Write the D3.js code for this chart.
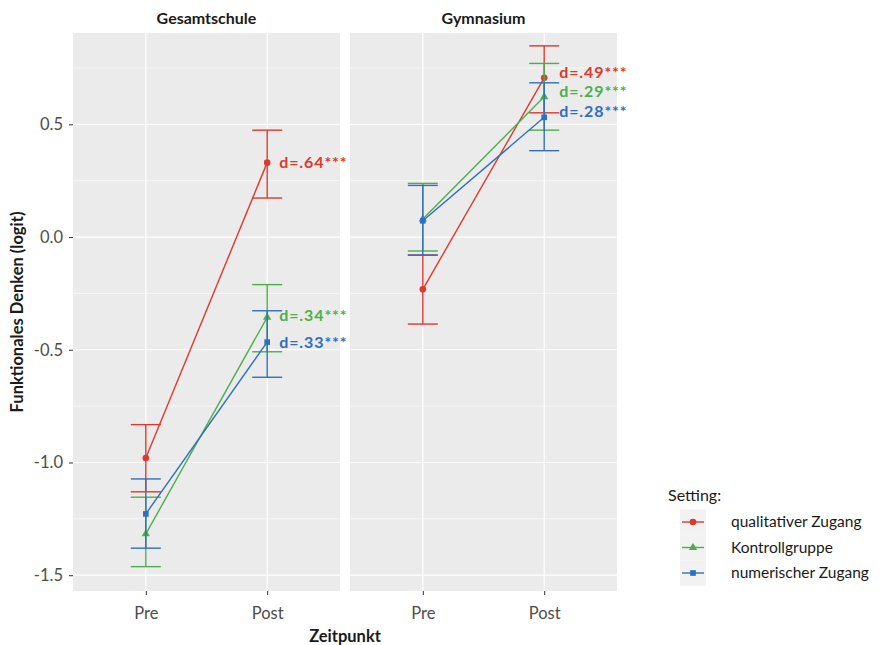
<!DOCTYPE html>
<html><head><meta charset="utf-8">
<script src="https://cdn.jsdelivr.net/npm/d3@7"></script>
<style>body{margin:0;background:#fff}svg{display:block}text{font-family:Lato,"Open Sans",sans-serif}</style>
</head><body><svg id="c" width="882" height="645"></svg>
<script>
// ---- data ----
const schools = ["Gesamtschule", "Gymnasium"];
const times = ["Pre", "Post"];
const settings = ["qualitativer Zugang", "Kontrollgruppe", "numerischer Zugang"];
const colors = ["#E2372B", "#4DAF4A", "#2F6FBF"];
const shapes = ["circle", "triangle", "square"];
// order: Gesamtschule Pre, Gesamtschule Post, Gymnasium Pre, Gymnasium Post
const qualMean = [-0.98, 0.33, -0.232, 0.706];
const qualLow  = [-1.13, 0.173, -0.386, 0.551];
const qualHigh = [-0.832, 0.474, -0.08, 0.848];
const kontMean = [-1.317, -0.356, 0.08, 0.622];
const kontLow  = [-1.462, -0.509, -0.062, 0.474];
const kontHigh = [-1.154, -0.211, 0.238, 0.77];
const numMean  = [-1.228, -0.466, 0.072, 0.531];
const numLow   = [-1.38, -0.622, -0.08, 0.383];
const numHigh  = [-1.073, -0.327, 0.229, 0.684];
const effGes = ["d=.64***", "d=.34***", "d=.33***"];
const effGesY = [0.33, -0.349, -0.466];
const effGym = ["d=.49***", "d=.29***", "d=.28***"];
const effGymY = [0.733, 0.645, 0.556];
const yTicks = [-1.5, -1.0, -0.5, 0.0, 0.5];
const yMinor = [-1.25, -0.75, -0.25, 0.25, 0.75];

const means = [qualMean, kontMean, numMean];
const lows = [qualLow, kontLow, numLow];
const highs = [qualHigh, kontHigh, numHigh];
const effs = [effGes, effGym];
const effYs = [effGesY, effGymY];

const svg = d3.select("#c");
const pTop = 33, pBottom = 591;
const panels = [[73, 340], [350, 617]];
const y = d3.scaleLinear().domain([-1.57, 0.905]).range([pBottom, pTop]);
const FONT = "Lato, 'Open Sans', sans-serif";

const defs = svg.append("defs");
panels.forEach((p, i) => {
  defs.append("clipPath").attr("id", "clip" + i).append("rect")
    .attr("x", p[0]).attr("y", pTop).attr("width", p[1] - p[0]).attr("height", pBottom - pTop);
});

const sym = {circle: d3.symbolCircle, triangle: d3.symbolTriangle, square: d3.symbolSquare};
const symSize = {circle: 34, triangle: 30, square: 32};
const xScales = [];

panels.forEach((p, pi) => {
  const x = d3.scalePoint().domain(times).range(p).padding(0.6);
  xScales.push(x);
  const g = svg.append("g");
  g.append("rect").attr("x", p[0]).attr("y", pTop).attr("width", p[1] - p[0]).attr("height", pBottom - pTop).attr("fill", "#EBEBEB");
  yMinor.forEach(v => g.append("line").attr("x1", p[0]).attr("x2", p[1]).attr("y1", y(v)).attr("y2", y(v)).attr("stroke", "#fff").attr("stroke-width", 0.6));
  yTicks.forEach(v => g.append("line").attr("x1", p[0]).attr("x2", p[1]).attr("y1", y(v)).attr("y2", y(v)).attr("stroke", "#fff").attr("stroke-width", 1.2));
  times.forEach(t => g.append("line").attr("x1", x(t)).attr("x2", x(t)).attr("y1", pTop).attr("y2", pBottom).attr("stroke", "#fff").attr("stroke-width", 1.2));

  // strip title
  svg.append("text").attr("x", (p[0] + p[1]) / 2).attr("y", 24).attr("text-anchor", "middle")
    .attr("font-size", 16).attr("font-weight", "bold").attr("fill", "#1a1a1a").text(schools[pi]);

  // x axis
  const ax = svg.append("g").attr("transform", `translate(0,${pBottom})`)
    .call(d3.axisBottom(x).tickSize(4).tickPadding(12));
  ax.select(".domain").remove();
  ax.selectAll(".tick line").attr("stroke", "#333").attr("stroke-width", 1);
  ax.selectAll(".tick text").attr("font-size", 16.5).attr("fill", "#4D4D4D").style("font-family", FONT);

  const mg = svg.append("g").attr("clip-path", `url(#clip${pi})`);
  settings.forEach((s, si) => {
    const idx = [pi * 2, pi * 2 + 1];
    const pts = idx.map((k, ti) => ({x: x(times[ti]), m: means[si][k], lo: lows[si][k], hi: highs[si][k]}));
    const col = colors[si];
    mg.append("path").attr("d", d3.line().x(d => d.x).y(d => y(d.m))(pts))
      .attr("fill", "none").attr("stroke", col).attr("stroke-width", 1.4);
    pts.forEach(d => {
      mg.append("line").attr("x1", d.x).attr("x2", d.x).attr("y1", y(d.lo)).attr("y2", y(d.hi)).attr("stroke", col).attr("stroke-width", 1.4);
      [d.lo, d.hi].forEach(v => mg.append("line").attr("x1", d.x - 15).attr("x2", d.x + 15).attr("y1", y(v)).attr("y2", y(v)).attr("stroke", col).attr("stroke-width", 1.4));
      mg.append("path").attr("transform", `translate(${d.x},${y(d.m)})`)
        .attr("d", d3.symbol().type(sym[shapes[si]]).size(symSize[shapes[si]])()).attr("fill", col);
    });
  });
});

// effect labels (drawn last, on top of both panels)
panels.forEach((p, pi) => {
  const x = xScales[pi];
  settings.forEach((s, si) => {
    svg.append("text").attr("x", x("Post") + (pi === 0 ? 12 : 15)).attr("y", y(effYs[pi][si])).attr("dy", "0.36em")
      .attr("font-size", 16).attr("font-weight", "bold").attr("letter-spacing", 0.9)
      .attr("fill", colors[si]).text(effs[pi][si]);
  });
});

// y axis
const ay = svg.append("g").attr("transform", `translate(${panels[0][0]},0)`)
  .call(d3.axisLeft(y).tickValues(yTicks).tickFormat(d3.format(".1f")).tickSize(4).tickPadding(6));
ay.select(".domain").remove();
ay.selectAll(".tick line").attr("stroke", "#333");
ay.selectAll(".tick text").attr("font-size", 16.5).attr("fill", "#4D4D4D").style("font-family", FONT)
  .text(d => d3.format(".1f")(d).replace("−", "-"));

svg.append("text").attr("transform", `translate(23,${(pTop + pBottom) / 2}) rotate(-90)`).attr("text-anchor", "middle")
  .attr("font-size", 16.5).attr("font-weight", "bold").attr("fill", "#1a1a1a").text("Funktionales Denken (logit)");
svg.append("text").attr("x", (panels[0][0] + panels[1][1]) / 2).attr("y", 642).attr("text-anchor", "middle")
  .attr("font-size", 16.5).attr("font-weight", "bold").attr("fill", "#1a1a1a").text("Zeitpunkt");

// legend
const lg = svg.append("g");
lg.append("text").attr("x", 668).attr("y", 501).attr("font-size", 16).attr("fill", "#1a1a1a").text("Setting:");
settings.forEach((s, si) => {
  const ly = 522 + si * 25.5;
  lg.append("rect").attr("x", 680).attr("y", ly - 12.75).attr("width", 26).attr("height", 25.5).attr("fill", "#F2F2F2");
  lg.append("line").attr("x1", 682).attr("x2", 704).attr("y1", ly).attr("y2", ly).attr("stroke", colors[si]).attr("stroke-width", 1.4);
  lg.append("path").attr("transform", `translate(693,${ly})`).attr("d", d3.symbol().type(sym[shapes[si]]).size(symSize[shapes[si]])()).attr("fill", colors[si]);
  lg.append("text").attr("x", 731).attr("y", ly).attr("dy", "0.35em").attr("font-size", 15.5).attr("fill", "#1a1a1a").text(s);
});
</script></body></html>
